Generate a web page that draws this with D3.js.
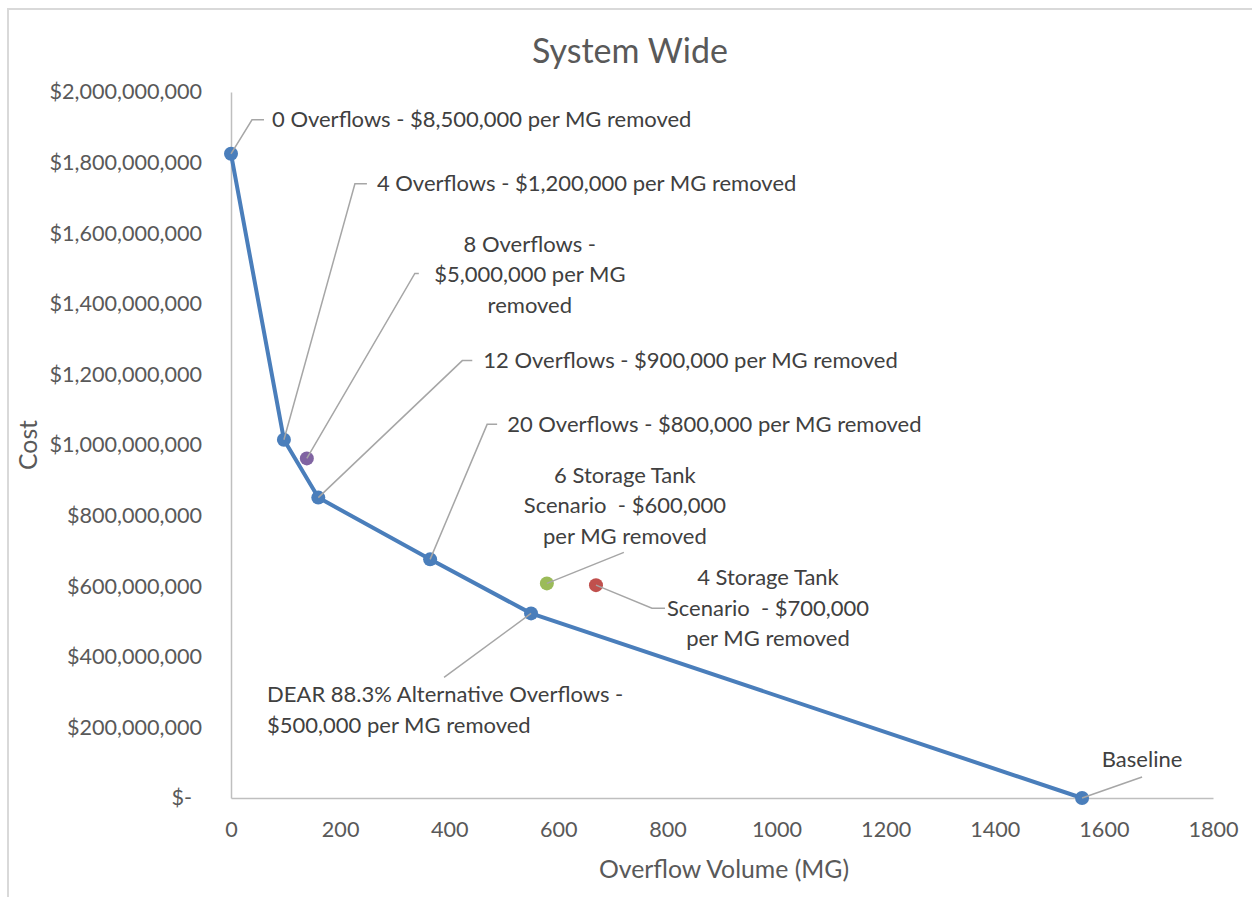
<!DOCTYPE html>
<html>
<head>
<meta charset="utf-8">
<script src="https://cdn.jsdelivr.net/npm/d3@7"></script>
<style>
  body { margin: 0; background: #fff; }
  text { font-family: Lato, "Open Sans", sans-serif; }
</style>
</head>
<body>
<div id="chart"></div>
<script>
// curve points (overflow volume MG, cost $)
var curveVolume = [0, 97, 160, 365, 550, 1560];
var curveCost = [1825000000, 1015000000, 851000000, 676000000, 523000000, 0];
var curveLabels = [
  ["0 Overflows - $8,500,000 per MG removed"],
  ["4 Overflows - $1,200,000 per MG removed"],
  ["12 Overflows - $900,000 per MG removed"],
  ["20 Overflows - $800,000 per MG removed"],
  ["DEAR 88.3% Alternative Overflows -", "$500,000 per MG removed"],
  ["Baseline"]
];

// single scenario points
var pointNames = ["8 Overflows", "6 Storage Tank", "4 Storage Tank"];
var pointVolume = [139, 579, 669];
var pointCost = [962000000, 608000000, 603000000];
var pointColors = ["#8064A2", "#9BBB59", "#C0504D"];
var pointLabels = [
  ["8 Overflows -", "$5,000,000 per MG", "removed"],
  ["6 Storage Tank", "Scenario  - $600,000", "per MG removed"],
  ["4 Storage Tank", "Scenario  - $700,000", "per MG removed"]
];

var xTicks = [0, 200, 400, 600, 800, 1000, 1200, 1400, 1600, 1800];
var yTicks = [0, 200e6, 400e6, 600e6, 800e6, 1000e6, 1200e6, 1400e6, 1600e6, 1800e6, 2000e6];

var W = 1252, H = 897;
var margin = {top: 92, left: 231, right: 39, bottom: 99};
var width = W - margin.left - margin.right,
    height = H - margin.top - margin.bottom;

var svg = d3.select("#chart").append("svg")
    .attr("width", W).attr("height", H);

// outer chart border
svg.append("path")
    .attr("d", "M8," + H + "V9H" + W)
    .attr("fill", "none").attr("stroke", "#d9d9d9").attr("stroke-width", 2);

svg.append("text")
    .attr("x", 630).attr("y", 63)
    .attr("text-anchor", "middle")
    .attr("font-size", 34).attr("fill", "#595959")
    .text("System Wide");

var g = svg.append("g")
    .attr("transform", "translate(" + margin.left + "," + margin.top + ")");

var x = d3.scaleLinear().domain([0, 1800]).range([0, width]);
var y = d3.scaleLinear().domain([0, 2000e6]).range([height, 0]);

var money = d3.format(",");

var xAxis = g.append("g")
    .attr("transform", "translate(0," + height + ")")
    .call(d3.axisBottom(x).tickValues(xTicks).tickSize(0).tickPadding(24).tickFormat(d3.format("d")));
var yAxis = g.append("g")
    .call(d3.axisLeft(y).tickValues(yTicks).tickSize(0).tickPadding(29)
      .tickFormat(d => d === 0 ? "$-" : "$" + money(d)));

[xAxis, yAxis].forEach(function(a) {
  a.select(".domain").attr("stroke", "#bfbfbf").attr("stroke-width", 1.5);
  a.selectAll("text").attr("font-size", 21.6).attr("fill", "#595959")
    .style("font-family", "Lato, 'Open Sans', sans-serif");
});
yAxis.selectAll(".tick text").filter(d => d === 0).attr("dx", -10);

svg.append("text")
    .attr("x", margin.left + x(900) + 2).attr("y", 878)
    .attr("text-anchor", "middle")
    .attr("font-size", 24.8).attr("fill", "#595959")
    .text("Overflow Volume (MG)");

svg.append("text")
    .attr("transform", "translate(37,445) rotate(-90)")
    .attr("text-anchor", "middle")
    .attr("font-size", 24.8).attr("fill", "#595959")
    .text("Cost");

var curve = curveVolume.map((v, i) => ({x: v, y: curveCost[i], label: curveLabels[i]}));
var singles = pointVolume.map((v, i) => ({x: v, y: pointCost[i], label: pointLabels[i], color: pointColors[i], name: pointNames[i]}));

// leader line elbows and label anchors, in px offset from the marker
var curveLayout = [
  {elbow: [21, -34], end: [33, -34], tx: 41, ty: -34, anchor: "start"},
  {elbow: [71, -256], end: [83, -256], tx: 93, ty: -256, anchor: "start"},
  {elbow: [144, -137], end: [154, -137], tx: 165, ty: -137, anchor: "start"},
  {elbow: [57, -135], end: [67, -135], tx: 77, ty: -135, anchor: "start"},
  {elbow: [-87, 64], end: [-87, 64], tx: -264, ty: 96.5, anchor: "start"},
  {elbow: [60, -21], end: [60, -21], tx: 60, ty: -39, anchor: "middle"}
];
var singleLayout = [
  {elbow: [108, -185], end: [112, -185], tx: 223, ty: -184, anchor: "middle"},
  {elbow: [77, -31], end: [77, -31], tx: 78, ty: -78, anchor: "middle"},
  {elbow: [56, 23], end: [69, 23], tx: 172, ty: 23, anchor: "middle"}
];

function drawLabels(data, layout) {
  data.forEach(function(d, i) {
    var L = layout[i];
    var px = x(d.x), py = y(d.y);
    g.append("polyline")
      .attr("points", [[px, py], [px + L.elbow[0], py + L.elbow[1]], [px + L.end[0], py + L.end[1]]].join(" "))
      .attr("fill", "none").attr("stroke", "#a6a6a6").attr("stroke-width", 1.5);
    var t = g.append("text")
      .attr("x", px + L.tx).attr("y", py + L.ty)
      .attr("text-anchor", L.anchor)
      .style("white-space", "pre")
      .attr("font-size", 22).attr("fill", "#404040");
    var n = d.label.length;
    d.label.forEach(function(line, k) {
      t.append("tspan")
        .attr("x", px + L.tx)
        .attr("y", py + L.ty + (k - (n - 1) / 2) * 30.5)
        .attr("dy", "0.35em")
        .text(line);
    });
  });
}

var line = d3.line().x(d => x(d.x)).y(d => y(d.y));
g.append("path")
    .datum(curve)
    .attr("d", line)
    .attr("fill", "none").attr("stroke", "#4A7EBB").attr("stroke-width", 4)
    .attr("stroke-linejoin", "round");

g.selectAll(".curve-pt").data(curve).enter().append("circle")
    .attr("class", "curve-pt")
    .attr("cx", d => x(d.x)).attr("cy", d => y(d.y)).attr("r", 7)
    .attr("fill", "#4A7EBB");

g.selectAll(".single-pt").data(singles).enter().append("circle")
    .attr("class", "single-pt")
    .attr("cx", d => x(d.x)).attr("cy", d => y(d.y)).attr("r", 7)
    .attr("fill", d => d.color);

drawLabels(curve, curveLayout);
drawLabels(singles, singleLayout);
</script>
</body>
</html>
